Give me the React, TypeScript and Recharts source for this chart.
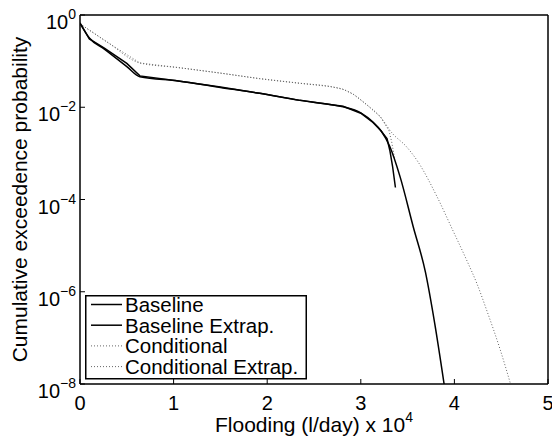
import React from 'react';
import { LineChart, Line, XAxis, YAxis, Legend, Label } from 'recharts';

const FONT = '"Liberation Sans", Arial, Helvetica, sans-serif';

// x in units of 10^4 l/day, y = exceedance probability
const baselineX = [0, 0.1, 0.26, 0.5, 0.64, 1.05, 1.5, 1.92, 2.35, 2.67, 2.81, 3.0, 3.13, 3.21, 3.28, 3.31, 3.34, 3.37];
const baselineY = [0.676, 0.302, 0.191, 0.0891, 0.0479, 0.0372, 0.0275, 0.02, 0.0141, 0.0115, 0.0105, 0.00741, 0.00468, 0.00316, 0.00209, 0.00117, 0.000513, 0.000182];

const baseExtrapX = [0, 0.1, 0.26, 0.5, 0.64, 1.05, 1.5, 1.92, 2.35, 2.67, 2.81, 3.0, 3.13, 3.22, 3.31, 3.42, 3.56, 3.69, 3.79, 3.89];
const baseExtrapY = [0.661, 0.316, 0.182, 0.0759, 0.0457, 0.0372, 0.0269, 0.02, 0.0141, 0.0115, 0.0102, 0.00759, 0.00479, 0.00302, 0.00141, 0.000309, 2.57e-5, 2.69e-6, 2.04e-7, 1e-8];

const condX = [0, 0.3, 0.64, 1.05, 1.5, 1.92, 2.35, 2.67, 2.81, 2.92, 3.06, 3.21, 3.3, 3.33, 3.36];
const condY = [0.646, 0.251, 0.0912, 0.0724, 0.055, 0.0417, 0.0331, 0.0282, 0.0245, 0.0191, 0.0115, 0.00617, 0.00316, 0.00178, 0.000794];

const condExtrapX = [0, 0.3, 0.64, 1.05, 1.5, 1.92, 2.35, 2.67, 2.81, 2.92, 3.06, 3.21, 3.33, 3.49, 3.61, 3.81, 3.99, 4.13, 4.24, 4.35, 4.49, 4.6];
const condExtrapY = [0.646, 0.251, 0.0912, 0.0724, 0.055, 0.0417, 0.0331, 0.0282, 0.0245, 0.0191, 0.0115, 0.00617, 0.00282, 0.00138, 0.000661, 0.00012, 2.0e-5, 4.9e-6, 1.51e-6, 3.72e-7, 5.5e-8, 1e-8];

const xTicks = [0, 1, 2, 3, 4, 5];
const yTicks = [1e-8, 1e-6, 1e-4, 1e-2, 1];

const legendNames = ['Baseline', 'Baseline Extrap.', 'Conditional', 'Conditional Extrap.'];
const legendDotted = [false, false, true, true];

const pts = (xs: number[], ys: number[]) => xs.map((x, i) => ({ x, y: ys[i] }));

const baseline = pts(baselineX, baselineY);
const baseExtrap = pts(baseExtrapX, baseExtrapY);
const conditional = pts(condX, condY);
const condExtrap = pts(condExtrapX, condExtrapY);

const XTick = ({ x, y, payload }: any) => (
  <text x={x} y={y + 31} textAnchor="middle" fontSize={20} fontFamily={FONT} fill="#000">
    {payload.value}
  </text>
);

const YTick = ({ x, y, payload }: any) => {
  const exp = Math.round(Math.log10(payload.value));
  const sup = exp < 0 ? '\u2212' + Math.abs(exp) : String(exp);
  return (
    <text x={x} y={y + 14} textAnchor="end" fontSize={20} fontFamily={FONT} fill="#000">
      10
      <tspan fontSize={14} dy={-10}>{sup}</tspan>
    </text>
  );
};

const XLabel = ({ viewBox }: any) => (
  <text x={viewBox.x + viewBox.width / 2} y={432} textAnchor="middle" fontSize={21} fontFamily={FONT} fill="#000">
    Flooding (l/day) x 10
    <tspan fontSize={14} dy={-10}>4</tspan>
  </text>
);

const YLabel = ({ viewBox }: any) => {
  const cy = viewBox.y + viewBox.height / 2;
  return (
    <text x={27} y={cy} transform={`rotate(-90 27 ${cy})`} textAnchor="middle" fontSize={21} fontFamily={FONT} fill="#000">
      Cumulative exceedence probability
    </text>
  );
};

const LegendBox = () => (
  <svg width={222} height={85} style={{ display: 'block', overflow: 'visible' }}>
    <rect x={0.75} y={0.75} width={220.5} height={83} fill="#fff" stroke="#000" strokeWidth={1.5} />
    {legendNames.map((name, i) => {
      const cy = 9.5 + i * 20.7;
      return (
        <g key={name}>
          <line
            x1={6} x2={37} y1={cy} y2={cy}
            stroke={legendDotted[i] ? '#666' : '#000'}
            strokeWidth={legendDotted[i] ? 1 : 1.5}
            strokeDasharray={legendDotted[i] ? '1 2' : undefined}
          />
          <text x={40} y={cy + 7.5} fontSize={20.5} fontFamily={FONT} fill="#000">{name}</text>
        </g>
      );
    })}
  </svg>
);

export default function App() {
  return (
    <div style={{ position: 'absolute', left: 0, top: 0, width: 552, height: 438, background: '#fff' }}>
      <LineChart width={552} height={438} margin={{ top: 14, right: 3, left: 0, bottom: 0 }}>
        <XAxis
          xAxisId="b" dataKey="x" type="number" domain={[0, 5]} ticks={xTicks} allowDataOverflow
          height={54} tickSize={-5} tickMargin={0} tick={<XTick />}
          axisLine={{ stroke: '#000', strokeWidth: 1.5 }} tickLine={{ stroke: '#000' }}
        >
          <Label content={<XLabel />} />
        </XAxis>
        <XAxis
          xAxisId="t" orientation="top" dataKey="x" type="number" domain={[0, 5]} ticks={xTicks} allowDataOverflow
          height={1} tickSize={-5} tick={false}
          axisLine={{ stroke: '#000', strokeWidth: 1.5 }} tickLine={{ stroke: '#000' }}
        />
        <YAxis
          yAxisId="l" dataKey="y" type="number" scale="log" domain={[1e-8, 1]} ticks={yTicks} allowDataOverflow
          width={80} tickSize={-5} tickMargin={9} tick={<YTick />}
          axisLine={{ stroke: '#000', strokeWidth: 1.5 }} tickLine={{ stroke: '#000' }}
        >
          <Label content={<YLabel />} />
        </YAxis>
        <YAxis
          yAxisId="r" orientation="right" type="number" scale="log" domain={[1e-8, 1]} ticks={yTicks} allowDataOverflow
          width={1} tickSize={-5} tick={false}
          axisLine={{ stroke: '#000', strokeWidth: 1.5 }} tickLine={{ stroke: '#000' }}
        />
        <Line xAxisId="b" yAxisId="l" data={condExtrap} dataKey="y" name="Conditional Extrap." type="monotoneX"
          stroke="#666" strokeWidth={1} strokeDasharray="1 2" dot={false} isAnimationActive={false} />
        <Line xAxisId="b" yAxisId="l" data={conditional} dataKey="y" name="Conditional" type="linear"
          stroke="#666" strokeWidth={1} strokeDasharray="1 2" dot={false} isAnimationActive={false} />
        <Line xAxisId="b" yAxisId="l" data={baseExtrap} dataKey="y" name="Baseline Extrap." type="monotoneX"
          stroke="#000" strokeWidth={1.5} dot={false} isAnimationActive={false} />
        <Line xAxisId="b" yAxisId="l" data={baseline} dataKey="y" name="Baseline" type="linear"
          stroke="#000" strokeWidth={1.5} dot={false} isAnimationActive={false} />
        <Legend
          layout="vertical" align="center" verticalAlign="middle"
          content={<LegendBox />}
          wrapperStyle={{ left: 85, top: 295, width: 222, height: 85 }}
        />
      </LineChart>
    </div>
  );
}
